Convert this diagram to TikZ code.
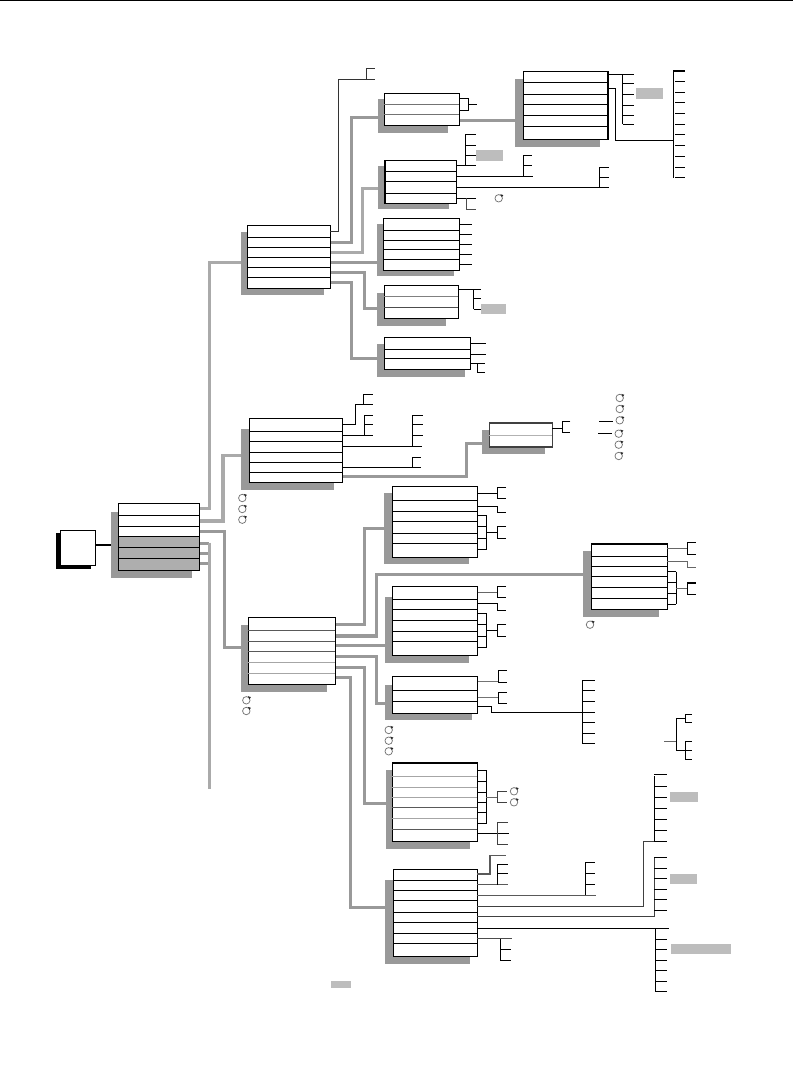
\documentclass[tikz,border=0pt]{standalone}
\usetikzlibrary{calc}
\definecolor{shad}{HTML}{999999}
\definecolor{lab}{HTML}{BDBDBD}
\definecolor{lconn}{HTML}{AAAAAA}
\definecolor{mfill}{HTML}{AEAEAE}
\tikzset{
  x=0.75pt,y=-0.75pt,
  tablebox/.style={draw=black,line width=0.9pt,fill=white,inner sep=0pt,outer sep=0pt},
  rowline/.style={draw=black,line width=0.75pt},
  wire/.style={draw=black,line width=0.72pt},
  bar/.style={draw=shad,line width=2.4pt},
  lbar/.style={draw=lconn,line width=2.4pt},
  shadowbar/.style={fill=shad,draw=none},
  graylabel/.style={fill=lab,draw=none},
}
\newcommand{\shd}[4]{\fill[shadowbar] (#1,#2) rectangle (#3,#4);}
% table box: [border colour]{name}{x1}{y1}{x2}{y2}
\newcommand{\tb}[6][black]{%
  \node[tablebox,draw=#1,minimum width={(#5-#3)*0.75pt},minimum height={(#6-#4)*0.75pt}] (#2) at ({(#3+#5)/2},{(#4+#6)/2}) {};
}
\newcommand{\rows}[3][black]{\foreach \r in {#3} \draw[rowline,draw=#1] (#2.west|-0,\r) -- (#2.east|-0,\r);}
\newcommand{\tk}[3]{\foreach \r in {#3} \draw[wire] (#1,\r) -- (#2,\r);}
\newcommand{\cyc}[2]{%
  \draw[draw=black!55,line width=0.55pt] (#1,#2) circle[radius=2.8pt];
  \fill[black!85] (#1+1.6,#2-4.1) -- (#1+4.6,#2-3.2) -- (#1+3.2,#2-1.2) -- cycle;}
\newcommand{\lbl}[4]{\fill[graylabel] (#1,#2) rectangle (#3,#4);}
\begin{document}
\begin{tikzpicture}
\useasboundingbox (0,0) rectangle (793,1088);
\fill[white] (0,0) rectangle (793,1088);
\draw[black,line width=1pt] (0,0.5) -- (793,0.5);

% ===== gray connectors (beneath boxes)
\draw[lbar] (199,508.3) -- (209.3,508.3) -- (209.3,262.5) -- (241,262.5);
\draw[lbar] (199,521) -- (223,521) -- (223,455.3) -- (241,455.3);
\draw[bar] (199,531.7) -- (224.3,531.7) -- (224.3,647.3) -- (241,647.3);
\draw[bar] (199,543.7) -- (209.3,543.7);
\draw[bar] (199,553.7) -- (209.3,553.7);
\draw[bar] (199,563.3) -- (209.3,563.3);
\draw[lbar] (209.3,542.5) -- (209.3,789);

\draw[bar] (330,242.3) -- (351.7,242.3) -- (351.7,117.3) -- (380,117.3);
\draw[lbar] (330,252.3) -- (362.7,252.3) -- (362.7,188.3) -- (380,188.3);
\draw[bar] (330,262.3) -- (380,262.3);
\draw[bar] (330,272.3) -- (364.3,272.3) -- (364.3,308.3) -- (380,308.3);
\draw[bar] (330,282.3) -- (351.7,282.3) -- (351.7,358.3) -- (380,358.3);
\draw[bar] (459,120.3) -- (517,120.3);

\draw[bar] (342,476.3) -- (466.3,476.3) -- (466.3,443.3) -- (484,443.3);

\draw[bar] (335,624.3) -- (364.3,624.3) -- (364.3,528.3) -- (386,528.3);
\draw[bar] (335,636) -- (376.7,636) -- (376.7,574.3) -- (585,574.3);
\draw[bar] (335,645.3) -- (387,645.3);
\draw[bar] (335,656.3) -- (376.7,656.3) -- (376.7,703.7) -- (387,703.7);
\draw[bar] (335,667.3) -- (364.3,667.3) -- (364.3,803.3) -- (387,803.3);
\draw[bar] (335,677.3) -- (350.7,677.3) -- (350.7,907.3) -- (387,907.3);

% ===== root
\fill[black] (56,533.3) rectangle (91,569);
\tb{root}{60.3}{530.3}{95.7}{565.3}
\shd{111}{512}{192}{578}
\tb{M}{118.3}{503.3}{199.7}{570.3}
\fill[mfill] (M.west|-0,536.3) rectangle (M.east|-0,570.3);
\draw[line width=0.9pt] (M.south west) rectangle (M.north east);
\rows{M}{515.3,526.3,536.3,547.3,558.3}
\draw[black,line width=1.4pt] (root.east|-0,544.7) -- (111,544.7);

% ===== mid boxes
\shd{240.7}{231.7}{324}{295.3}
\tb{B1}{247.3}{225.3}{330.3}{288.3}
\rows{B1}{237.3,247.3,257.3,267.3,277.3}
\draw[wire,draw=black!80] (B1.east|-0,231) -- (338.3,231) -- (338.3,79.7) -- (374.7,79.7);
\draw[wire,draw=black!80] (366,79.7) -- (366,68.7) -- (374.7,68.7);

\shd{241}{429}{334}{489.7}
\tb{B2}{249.3}{418.3}{342.3}{482.3}
\rows{B2}{431.3,441.3,452.3,462.3,472.3}
\draw[wire] (B2.east|-0,424.3) -- (355.7,424.3) -- (355.7,404.3) -- (373,404.3);
\draw[wire] (363.3,404.3) -- (363.3,394.7) -- (373,394.7);
\draw[wire] (B2.east|-0,435.3) -- (373,435.3);
\draw[wire] (364.3,435.3) -- (364.3,415.3) -- (373,415.3);
\tk{364.3}{373}{424.7}
\draw[wire] (B2.east|-0,446.3) -- (422,446.3);
\draw[wire] (412.3,446.3) -- (412.3,415.3);
\tk{412.3}{422.7}{415.3,424.3,435.3}
\draw[wire] (B2.east|-0,467.3) -- (420.7,467.3);
\draw[wire] (412.3,467.3) -- (412.3,457.3) -- (420.7,457.3);

\shd{482.3}{430.3}{545.3}{454.3}
\tb[black!75]{B3}{489.3}{423}{552.3}{447}
\rows[black!30]{B3}{435}
\draw[wire] (B3.east|-0,428.3) -- (562.3,428.3);
\draw[wire] (570.3,421.7) -- (562.3,421.7) -- (562.3,432.3) -- (570.3,432.3);

\cyc{619.7}{398}\cyc{619.7}{409}\cyc{619.7}{420.3}\cyc{618.7}{433.7}\cyc{618.7}{444.7}\cyc{618.7}{456}
\coordinate (ca) at (599,421.3); \coordinate (cb) at (613,421.3);
\draw[wire] (ca) -- (cb);
\coordinate (cc) at (598,433.3); \coordinate (cd) at (611.7,433.3);
\draw[wire] (cc) -- (cd);
\cyc{242.3}{498}\cyc{242.3}{509}\cyc{242.3}{519.7}

\shd{241}{625}{327}{691.7}
\tb{B4}{248.3}{617.3}{335.3}{684.3}
\rows[black!65]{B4}{630.3,641.3,651.3}
\rows[black!35]{B4}{662.3,673.3}
\cyc{246.3}{700.3}\cyc{246.3}{711}

% ===== top column
\shd{515}{79}{600}{147}
\tb{T1}{523.3}{71.3}{608}{139.3}
\rows{T1}{82.3,94.3,104.3,115.3,126.3}
\draw[wire] (T1.east|-0,74.3) -- (634,74.3);
\draw[wire] (622.7,74.3) -- (622.7,124.3);
\tk{622.7}{634}{83.3,94.3,105.3,115.3,124.3}
\lbl{636}{88}{663}{99}
\draw[wire] (T1.east|-0,88.3) -- (615.3,88.3) -- (615.3,140.3) -- (673.3,140.3);
\draw[wire] (673.3,70.2) -- (673.3,177.7);
\draw[black,line width=1.4pt] (673,70.7) -- (684.5,70.7);
\tk{675}{684.5}{81.3,92.3,102.3,113.3,124.3,134.3,145.3,156.3,167.3,177.3}

\shd{378}{99}{448}{133}
\tb{T2}{384.3}{93.3}{459.3}{125.3}
\rows[black!55]{T2}{104,114.3}
\draw[wire] (T2.east|-0,98.3) -- (468.3,98.3) -- (468.3,110.3) -- (T2.east|-0,110.3);
\draw[wire] (468.3,104.3) -- (476.7,104.3);

\shd{378}{166}{449}{209}
\tb{T3}{384.3}{160.3}{456.7}{203.7}
\fill[black] (384,160.3) rectangle (385.6,203.7);
\rows{T3}{171.3,181.3,193.3}
\draw[wire] (T3.east|-0,165.3) -- (476,165.3);
\draw[wire] (465.3,165.3) -- (465.3,134.7);
\tk{465.3}{476}{134.7,145,155.3}
\lbl{476}{150}{503}{160.7}
\draw[wire] (T3.east|-0,176.3) -- (532.7,176.3);
\draw[wire] (523.3,176.3) -- (523.3,155.7);
\tk{523.3}{532}{155.7,165.3}
\draw[wire] (T3.east|-0,187.3) -- (608.7,187.3);
\draw[wire] (599.3,187.3) -- (599.3,167.3);
\tk{599.3}{608.7}{167.3,177.3}
\draw[wire] (T3.east|-0,198.3) -- (476,198.3);
\draw[wire,draw=black!70] (466.7,198.3) -- (466.7,209) -- (476,209);
\cyc{498.7}{198.3}

\shd{377}{224}{454}{276}
\tb{T4}{383.3}{218.7}{459.3}{270.3}
\rows{T4}{230.3,240.3,249.3,259.3}
\foreach \r in {224.3,234.3,244.3,254.3,264.3} \draw[wire] (T4.east|-0,\r) -- (471.7,\r);

\shd{377}{293}{446}{325.7}
\tb{T5}{384.3}{285.3}{458.3}{318.3}
\rows[black!50]{T5}{296.7}
\rows[black!70]{T5}{307.7}
\draw[wire] (T5.east|-0,289.3) -- (480.7,289.3);
\draw[wire] (473.7,289.3) -- (473.7,309.3);
\tk{473.7}{480.7}{298.7,309.3}
\lbl{481}{304}{506}{314}

\shd{377}{344}{465}{376.7}
\tb{T6}{384.3}{337.3}{470.3}{369.3}
\rows{T6}{349.3,358.3}
\draw[wire] (T6.east|-0,343.3) -- (486,343.3);
\draw[wire] (T6.east|-0,354.3) -- (486,354.3);
\draw[wire] (T6.east|-0,363.3) -- (485,363.3);
\draw[wire] (477.7,363.3) -- (477.7,372.3) -- (485,372.3);

% ===== lower column
\shd{384}{493}{469}{563.7}
\tb{C1}{392.3}{486.3}{477.7}{557.3}
\rows{C1}{500.3,511.3,521.3,533.3,543.3}
\draw[wire] (C1.east|-0,493.3) -- (497.3,493.3);
\draw[wire] (506,487.7) -- (497.3,487.7) -- (497.3,498.3) -- (506,498.3);
\draw[wire] (C1.east|-0,506.3) -- (497.3,506.3) -- (497.3,512.3) -- (506,512.3);
\foreach \r in {515.3,526.3,538.3,549.3} \draw[wire] (C1.east|-0,\r) -- (486.7,\r);
\draw[wire] (486.7,515.3) -- (486.7,549.3);
\draw[wire] (486.7,532.3) -- (497.3,532.3);
\draw[wire] (506,526.3) -- (497.3,526.3) -- (497.3,538.3) -- (506,538.3);

\shd{385}{597}{469}{663}
\tb{C2}{392.3}{586.3}{477.7}{655.3}
\rows{C2}{599.3,609.3,620.3,631.3,641.3}
\draw[wire,draw=black!60] (C2.east|-0,592.3) -- (497.3,592.3);
\draw[wire] (506,586.7) -- (497.3,586.7) -- (497.3,597.7) -- (506,597.7);
\draw[wire] (C2.east|-0,603.3) -- (497.3,603.3) -- (497.3,610.3) -- (506,610.3);
\foreach \r in {613.3,624.3,636.3,647.3} \draw[wire] (C2.east|-0,\r) -- (486.7,\r);
\draw[wire] (486.7,613.3) -- (486.7,647.3);
\draw[wire] (486.7,630.3) -- (497.3,630.3);
\draw[wire] (506,624.3) -- (497.3,624.3) -- (497.3,636.3) -- (506,636.3);

\shd{583}{551}{658.7}{616.7}
\tb{C3}{591.3}{543.7}{667.3}{609.3}
\draw[black,line width=1.4pt] (C3.north west) -- (C3.north east);
\rows{C3}{556.3,566.3,576.3,587.3,598.3}
\draw[wire,draw=black!60] (C3.east|-0,548.3) -- (687.3,548.3);
\draw[wire] (695.7,542.7) -- (687.3,542.7) -- (687.3,554) -- (695.7,554);
\draw[wire,draw=black!60] (C3.east|-0,561) -- (687.3,561) -- (687.3,567.7) -- (695.7,567.7);
\foreach \r in {571.7,582.3,593.3,604.3} \draw[wire] (C3.east|-0,\r) -- (676.3,\r);
\draw[wire] (676.3,571.7) -- (676.3,604.3);
\draw[wire,draw=black!60] (676.3,588.3) -- (687.3,588.3);
\draw[black,line width=1.2pt] (695.7,582.7) -- (687.3,582.7);
\draw[wire] (687.3,582.7) -- (687.3,594.3) -- (695.7,594.3);
\cyc{590}{624.7}

\shd{385}{685}{472}{719.7}
\tb{C4}{392.3}{676.3}{477.7}{713.3}
\rows{C4}{690.3,701.3}
\draw[wire,draw=black!55] (C4.east|-0,681.7) -- (498.7,681.7);
\draw[black,line width=1.1pt] (506.7,670.7) -- (498.7,670.7) -- (498.7,682.3) -- (506.7,682.3);
\draw[wire,draw=black!55] (C4.east|-0,697) -- (498.7,697);
\draw[black,line width=1.1pt] (506.7,692.7) -- (498.7,692.7) -- (498.7,703.3) -- (506.7,703.3);
\draw[wire] (C4.east|-0,706.3) -- (491.3,706.3) -- (491.3,712.3) -- (582.3,712.3);
\draw[wire] (582.3,680.3) -- (582.3,743.3);
\tk{582.3}{595}{680.3,690.3,701.3,712.3,722.3,733.3,743.3}
\cyc{388.7}{730}\cyc{388.7}{740.7}\cyc{388.7}{751.3}

% right small tree
\coordinate (ra) at (664,741.7); \coordinate (rb) at (676.3,741.7);
\draw[wire,draw=black!60] (ra) -- (rb);
\draw[wire] (685.7,718.3) -- (676.3,718.3) -- (676.3,750.3) -- (685.7,750.3);
\draw[wire] (691.7,714.7) -- (685.7,714.7) -- (685.7,722.3) -- (691.7,722.3);
\draw[wire] (691.7,741.3) -- (685.7,741.3) -- (685.7,759.3) -- (691.7,759.3);
\tk{685.7}{691.7}{750.3}

\shd{386}{770}{470}{848.7}
\tb{D1}{392.3}{762.7}{477.3}{841.3}
\draw[black,line width=1.4pt] (D1.north west) -- (D1.north east);
\rows[black!35]{D1}{776,787,797,818.7}
\rows[black!65]{D1}{807.3,829.3}
\foreach \r in {770.3,781.3,792.3,802.3,812.7,823.7} \draw[wire] (D1.east|-0,\r) -- (486.3,\r);
\draw[wire] (486.3,770.3) -- (486.3,823.7);
\draw[wire,draw=black!60] (486.3,797) -- (497,797);
\draw[wire,draw=black!75] (506.7,791) -- (497,791) -- (497,802.3) -- (506.7,802.3);
\cyc{514}{791.3}\cyc{514}{802.3}
\draw[wire] (D1.east|-0,833.3) -- (508.7,833.3);
\draw[wire,draw=black!75] (508,822.3) -- (497,822.3) -- (497,844) -- (508,844);

\shd{385}{880}{470}{964}
\tb{D2}{393.3}{869.3}{477.3}{956.3}
\rows{D2}{880.3,890.3,900.3,912.3,922.3,933.3,943.3}
\draw[wire,draw=black!65,line width=1.1pt] (D2.east|-0,874) -- (490,874) -- (490,855.7) -- (505.7,855.7);
\draw[wire,draw=black!65] (D2.east|-0,884.7) -- (508,884.7);
\draw[wire] (497.3,884.7) -- (497.3,864.7);
\tk{497.3}{508}{864.7,873.7}
\draw[wire,draw=black!65] (D2.east|-0,895) -- (596.3,895);
\draw[wire] (585.7,895) -- (585.7,862.3);
\tk{585.7}{595.3}{862.3,873.7,884.3}
\draw[wire,draw=black!75] (D2.east|-0,906) -- (643.3,906) -- (643.3,841.7) -- (654.3,841.7);
\draw[wire] (654.3,776.3) -- (654.3,841.7);
\tk{654.3}{667}{774.3,786.3,797.3,808.3,819.3,830.3,841.3}
\draw[wire,draw=black!75] (D2.east|-0,916.7) -- (654.3,916.7) -- (654.3,857.3);
\tk{654.3}{667}{857.3,868.3,878.3,889.3,899.3,910.3}
\draw[wire] (D2.east|-0,928.3) -- (669,928.3);
\draw[wire] (655.7,928.3) -- (655.7,991.7);
\tk{655.7}{667}{939.3,949.3,960.3,970.3,981.3,991.3}
\draw[wire,draw=black!70] (D2.east|-0,938.7) -- (511.7,938.7);
\draw[wire] (500.3,938.7) -- (500.3,960.3);
\tk{500.3}{511}{949.3,960.3}
\lbl{670}{792}{698}{802}
\lbl{670}{874}{697}{884}
\lbl{671}{944}{731}{954}
\lbl{331}{981}{351}{988}
\end{tikzpicture}
\end{document}
